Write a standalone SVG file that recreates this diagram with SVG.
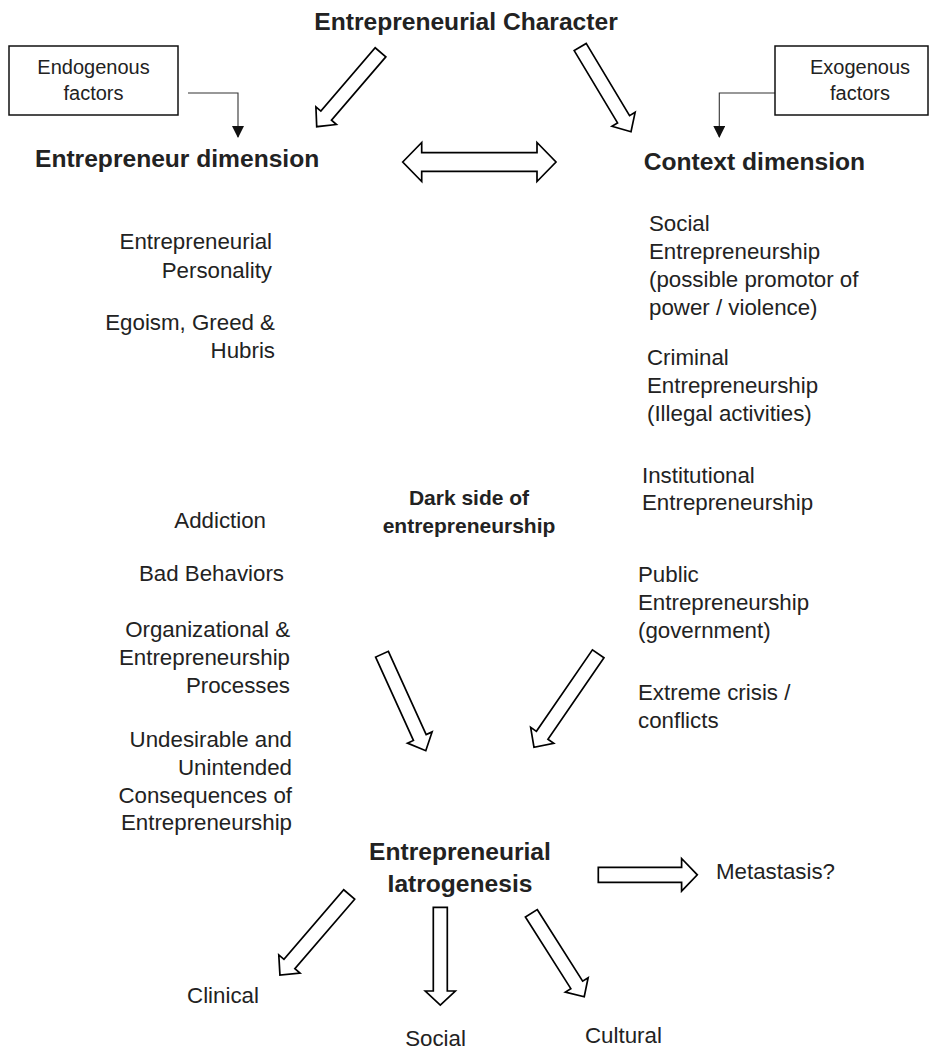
<svg xmlns="http://www.w3.org/2000/svg" width="937" height="1050" viewBox="0 0 937 1050">
  <style>
    text { font-family: "Liberation Sans", Arial, Helvetica, sans-serif; fill: #222; }
    .item { font-size: 22.3px; }
    .small { font-size: 20px; }
    .head { font-size: 24.6px; font-weight: bold; }
    .mid { font-size: 21px; font-weight: bold; }
    .end { text-anchor: end; }
    .ctr { text-anchor: middle; }
    .box { fill: #fff; stroke: #111; stroke-width: 1.5; }
    .block { fill: #fff; stroke: #000; stroke-width: 1.7; stroke-linejoin: miter; }
    .thin { fill: none; stroke: #333; stroke-width: 1.1; }
  </style>
  <defs>
    <marker id="tri" markerUnits="userSpaceOnUse" markerWidth="12" markerHeight="12" viewBox="0 0 12 12" refX="11" refY="6" orient="auto">
      <path d="M0,0 L12,6 L0,12 Z" fill="#111"/>
    </marker>
  </defs>

  <rect width="937" height="1050" fill="#fff"/>

  <!-- connectors: block arrows and factor links -->
  <g id="connectors">
    <path class="thin" d="M188,93 H238 V137" marker-end="url(#tri)"/>
    <path class="thin" d="M775,93 H719.3 V137" marker-end="url(#tri)"/>
    <!-- Entrepreneurial Character to the two dimensions -->
    <path class="block" transform="translate(380.5,52.3) rotate(130.6)" d="M0,-7 H83.5 V-13.5 L98,0 L83.5,13.5 V7 H0 Z"/>
    <path class="block" transform="translate(580.2,47) rotate(59.05)" d="M0,-7 H84.3 V-13.5 L98.8,0 L84.3,13.5 V7 H0 Z"/>
    <!-- two-way link between the dimensions -->
    <path class="block" d="M402.7,162 L421.7,142.5 V152.7 H537 V142.5 L556,162 L537,181.5 V171.3 H421.7 V181.5 Z"/>
    <!-- dimensions into iatrogenesis -->
    <path class="block" transform="translate(382,654.2) rotate(65.6)" d="M0,-7 H91.5 V-13.5 L106,0 L91.5,13.5 V7 H0 Z"/>
    <path class="block" transform="translate(598.2,653.8) rotate(124.5)" d="M0,-7 H98.9 V-14 L113.4,0 L98.9,14 V7 H0 Z"/>
    <!-- iatrogenesis outcomes -->
    <path class="block" transform="translate(349.2,894.5) rotate(130.7)" d="M0,-7.2 H91.7 V-14 L106.2,0 L91.7,14 V7.2 H0 Z"/>
    <path class="block" transform="translate(440.3,907.3) rotate(90)" d="M0,-7 H83.7 V-15 L97.7,0 L83.7,15 V7 H0 Z"/>
    <path class="block" transform="translate(531.3,913.3) rotate(57.6)" d="M0,-7 H84.8 V-13.5 L98.8,0 L84.8,13.5 V7 H0 Z"/>
    <path class="block" d="M598.3,867.3 H681.6 V858.5 L697.3,874.8 L681.6,891.1 V882.3 H598.3 Z"/>
  </g>

  <g id="character">
    <text class="head ctr" x="466" y="30">Entrepreneurial Character</text>
  </g>

  <g id="endogenous">
    <rect class="box" x="9" y="46" width="169" height="69"/>
    <text class="small ctr" x="93.5" y="74">Endogenous</text>
    <text class="small ctr" x="93.5" y="100">factors</text>
  </g>

  <g id="exogenous">
    <rect class="box" x="775" y="46" width="153" height="69"/>
    <text class="small ctr" x="860" y="74">Exogenous</text>
    <text class="small ctr" x="860" y="100">factors</text>
  </g>

  <g id="entrepreneur-dimension">
    <text class="head" x="35" y="167">Entrepreneur dimension</text>
  </g>

  <g id="context-dimension">
    <text class="head" x="643.7" y="170">Context dimension</text>
  </g>

  <g id="entrepreneur-items">
    <text class="item end" x="272" y="249">Entrepreneurial</text>
    <text class="item end" x="272" y="278">Personality</text>
    <text class="item end" x="275" y="330">Egoism, Greed &amp;</text>
    <text class="item end" x="275" y="358">Hubris</text>
    <text class="item end" x="266" y="528">Addiction</text>
    <text class="item end" x="284" y="581">Bad Behaviors</text>
    <text class="item end" x="290" y="637">Organizational &amp;</text>
    <text class="item end" x="290" y="665">Entrepreneurship</text>
    <text class="item end" x="290" y="693">Processes</text>
    <text class="item end" x="292" y="747">Undesirable and</text>
    <text class="item end" x="292" y="775">Unintended</text>
    <text class="item end" x="292" y="803">Consequences of</text>
    <text class="item end" x="292" y="830">Entrepreneurship</text>
  </g>

  <g id="context-items">
    <text class="item" x="649" y="231">Social</text>
    <text class="item" x="649" y="259">Entrepreneurship</text>
    <text class="item" x="649" y="287">(possible promotor of</text>
    <text class="item" x="649" y="315">power / violence)</text>
    <text class="item" x="647" y="365">Criminal</text>
    <text class="item" x="647" y="393">Entrepreneurship</text>
    <text class="item" x="647" y="421">(Illegal activities)</text>
    <text class="item" x="642" y="483">Institutional</text>
    <text class="item" x="642" y="510">Entrepreneurship</text>
    <text class="item" x="638" y="582">Public</text>
    <text class="item" x="638" y="610">Entrepreneurship</text>
    <text class="item" x="638" y="638">(government)</text>
    <text class="item" x="638" y="700">Extreme crisis /</text>
    <text class="item" x="638" y="728">conflicts</text>
  </g>

  <g id="dark-side">
    <text class="mid ctr" x="469" y="505">Dark side of</text>
    <text class="mid ctr" x="469" y="533">entrepreneurship</text>
  </g>

  <g id="iatrogenesis">
    <text class="head ctr" x="460" y="860">Entrepreneurial</text>
    <text class="head ctr" x="460" y="892">Iatrogenesis</text>
  </g>

  <g id="metastasis">
    <text class="item" x="716" y="879">Metastasis?</text>
  </g>

  <g id="clinical">
    <text class="item ctr" x="223" y="1003">Clinical</text>
  </g>

  <g id="social">
    <text class="item ctr" x="435.5" y="1046">Social</text>
  </g>

  <g id="cultural">
    <text class="item" x="585" y="1043">Cultural</text>
  </g>
</svg>
